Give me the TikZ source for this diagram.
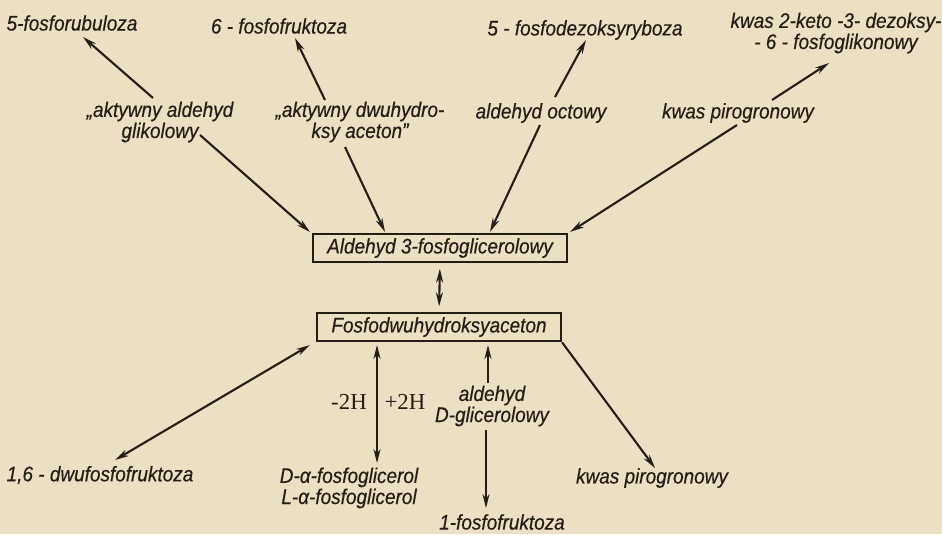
\documentclass[tikz,border=0pt]{standalone}
\usepackage{fontspec}
\usepackage{tikz}
\usetikzlibrary{arrows.meta,calc}
\newfontfamily\handfont{Liberation Sans}[FakeStretch=0.9,FakeBold=0.4]
\newfontfamily\hfont{Liberation Serif}
\definecolor{paper}{RGB}{236,224,194}
\definecolor{ink}{RGB}{35,30,24}

\begin{document}
\begin{tikzpicture}[
    x=0.02cm, y=-0.02cm,
    txt/.style={font=\handfont\itshape\fontsize{12}{12}\selectfont, text=ink,
                align=center, inner sep=1pt},
    hlbl/.style={font=\hfont\fontsize{13}{13}\selectfont, text=ink, inner sep=1pt},
    box/.style={txt, draw=ink, line width=1.3pt, minimum height=0.57cm},
    arr/.style={-{Stealth[length=8pt,width=4pt]}, line width=1.2pt, ink},
    darr/.style={{Stealth[length=8pt,width=4pt]}-{Stealth[length=8pt,width=4pt]},
                 line width=1.2pt, ink}
  ]
  \fill[paper] (0,0) rectangle (942,534);
  \useasboundingbox (0,0) rectangle (942,534);
  % --- top products ---
  \node[txt] (rubul)  at (72,23)  {5-fosforubuloza};
  \node[txt] (frukt)  at (279,26) {6 - fosfofruktoza};
  \node[txt] (dezoks) at (585,30) {5 - fosfodezoksyryboza};
  \node[txt] (keto)   at (836,33) {kwas 2-keto -3- dezoksy-\\- 6 - fosfoglikonowy};
  % --- precursors ---
  \node[txt] (glik)    at (160,122) {„aktywny aldehyd\\glikolowy};
  \node[txt] (dwuh)    at (360,122) {„aktywny dwuhydro-\\ksy aceton”};
  \node[txt] (octowy)  at (541,113) {aldehyd octowy};
  \node[txt] (pirotop) at (738,113) {kwas pirogronowy};
  % --- central boxes ---
  \node[box, minimum width=5.08cm] (box1) at (440,248) {Aldehyd 3-fosfoglicerolowy};
  \node[box, minimum width=4.88cm] (box2) at (439,327) {Fosfodwuhydroksyaceton};
  % --- bottom products ---
  \node[txt] (dwufos)   at (100,475) {1,6 - dwufosfofruktoza};
  \node[txt] (glicerol) at (349,488) {D-α-fosfoglicerol\\L-α-fosfoglicerol};
  \node[txt] (dglic)    at (492,406) {aldehyd\\D-glicerolowy};
  \node[txt] (jedenfos) at (502,522) {1-fosfofruktoza};
  \node[txt] (pirobot)  at (652,478) {kwas pirogronowy};
  \node[hlbl] (minus) at (349,402) {-2H};
  \node[hlbl] (plus)  at (405,402) {+2H};
  % --- upward arrows ---
  \draw[arr] ($(glik)+(-7,-24)$) -- ($(rubul)+(11,14)$);
  \draw[arr] ($(dwuh)+(-35,-22)$) -- ($(frukt)+(16,12)$);
  \draw[arr] ($(octowy)+(14,-16)$) -- ($(dezoks)+(1,10)$);
  \draw[arr] ($(pirotop)+(34,-13)$) -- ($(keto)+(-7,30)$);
  % --- into aldehyd 3-fosfoglicerolowy ---
  \draw[arr] ($(glik)+(40,13)$) -- ($(box1)+(-130,-16)$);
  \draw[arr] ($(dwuh)+(-15,25)$) -- ($(box1)+(-55,-16)$);
  \draw[arr] ($(octowy)+(-1,12)$) -- ($(box1)+(50,-16)$);
  \draw[arr] ($(pirotop)+(-1,12)$) -- ($(box1)+(130,-16)$);
  \draw[darr, shorten <=3pt, shorten >=3pt] (box1.south) -- (box2.north);
  % --- out of fosfodwuhydroksyaceton ---
  \draw[darr] ($(box2)+(-129,18)$) -- ($(dwufos)+(15,-15)$);
  \draw[darr] ($(box2)+(-62,18)$) -- ($(glicerol)+(28,-25)$);
  \draw[arr] ($(dglic)+(-4,-23)$) -- ($(box2)+(49,18)$);
  \draw[arr] ($(dglic)+(-6,24)$) -- ($(jedenfos)+(-16,-14)$);
  \draw[arr] (box2.south east) -- ($(pirobot)+(3,-10)$);
\end{tikzpicture}
\end{document}
